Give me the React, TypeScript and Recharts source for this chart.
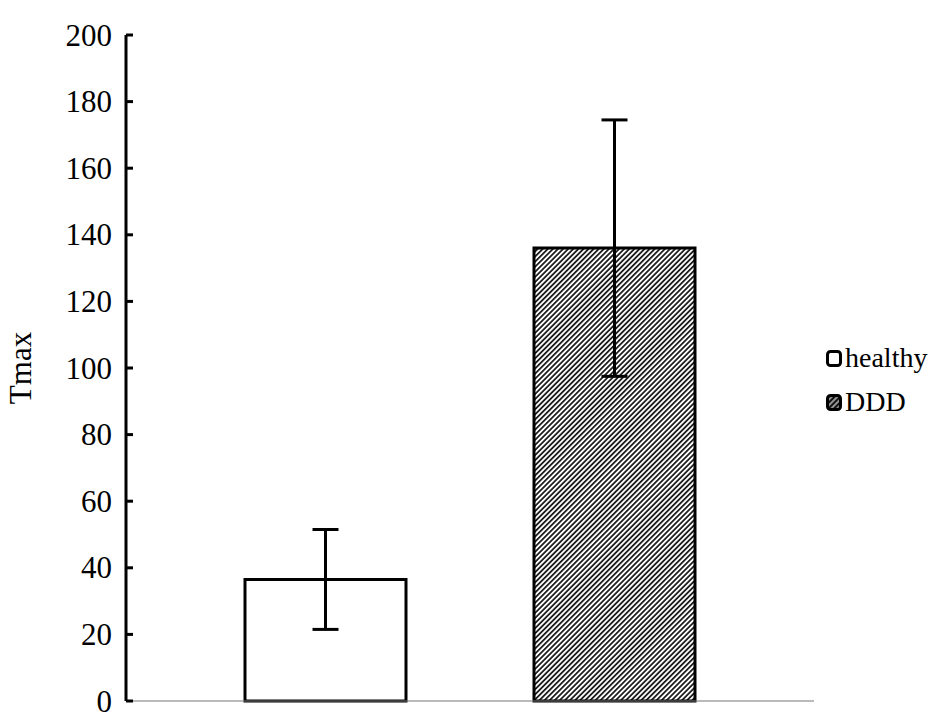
import React from 'react';
import { BarChart, Bar, XAxis, YAxis, ErrorBar, Legend } from 'recharts';

const categories = [''];
const healthyValues = [36.5];
const healthyErrors = [15];
const dddValues = [136];
const dddErrors = [38.5];
const yTicks = [0, 20, 40, 60, 80, 100, 120, 140, 160, 180, 200];

const data = categories.map((c, i) => ({
  name: c,
  healthy: healthyValues[i],
  healthyErr: healthyErrors[i],
  DDD: dddValues[i],
  DDDErr: dddErrors[i],
}));

const FONT = '"Liberation Serif", "Times New Roman", serif';

const YTick = (props: any) => {
  const { x, y, payload } = props;
  return (
    <g>
      <line x1={x} y1={y} x2={x + 7} y2={y} stroke="#000" strokeWidth={3} />
      <text
        x={x - 14}
        y={y}
        textAnchor="end"
        dominantBaseline="central"
        fontFamily={FONT}
        fontSize={31}
        fill="#000"
      >
        {payload.value}
      </text>
    </g>
  );
};

const LegendContent = () => (
  <div style={{ fontFamily: FONT, fontSize: 28, color: '#000', lineHeight: '44px' }}>
    <div style={{ display: 'flex', alignItems: 'center' }}>
      <svg width={17} height={17} style={{ marginRight: 2 }}>
        <rect x={1.5} y={1.5} width={13} height={14} rx={3} fill="#fff" stroke="#000" strokeWidth={3} />
      </svg>
      <span>healthy</span>
    </div>
    <div style={{ display: 'flex', alignItems: 'center' }}>
      <svg width={17} height={17} style={{ marginRight: 2 }}>
        <defs>
          <pattern id="hatchLegend" patternUnits="userSpaceOnUse" width={4} height={4} patternTransform="rotate(45)">
            <rect width={4} height={4} fill="#111" />
            <line x1={2} y1={0} x2={2} y2={4} stroke="#ddd" strokeWidth={1.3} />
          </pattern>
        </defs>
        <rect x={1.5} y={1.5} width={13} height={14} rx={3} fill="url(#hatchLegend)" stroke="#000" strokeWidth={3} />
      </svg>
      <span>DDD</span>
    </div>
  </div>
);

export default function App() {
  return (
    <div style={{ position: 'absolute', left: 0, top: 0, width: 945, height: 717, background: '#fff' }}>
      <BarChart
        width={945}
        height={717}
        data={data}
        margin={{ top: 35, right: 131, bottom: 0, left: 0 }}
        barSize={161}
        barGap={128}
      >
        <defs>
          <pattern id="hatch" patternUnits="userSpaceOnUse" width={3.6} height={3.6} patternTransform="rotate(45)">
            <rect width={3.6} height={3.6} fill="#fff" />
            <line x1={1.8} y1={0} x2={1.8} y2={3.6} stroke="#111" strokeWidth={1.7} />
          </pattern>
        </defs>
        <XAxis
          dataKey="name"
          height={16}
          tick={false}
          tickLine={false}
          axisLine={{ stroke: '#777', strokeWidth: 1.2 }}
        />
        <XAxis
          xAxisId="top"
          orientation="top"
          dataKey="name"
          height={0}
          tick={false}
          tickLine={false}
          axisLine={{ stroke: '#777', strokeWidth: 2 }}
        />
        <YAxis
          domain={[0, 200]}
          ticks={yTicks}
          interval={0}
          width={126}
          tickSize={0}
          tickMargin={0}
          tick={<YTick />}
          axisLine={{ stroke: '#000', strokeWidth: 3 }}
          label={{
            value: 'Tmax',
            angle: -90,
            position: 'insideLeft',
            offset: 0,
            dx: 20,
            style: { fontFamily: FONT, fontSize: 31, fill: '#000', textAnchor: 'middle' },
          }}
        />
        <YAxis
          yAxisId="right"
          orientation="right"
          width={0}
          domain={[0, 200]}
          tick={false}
          tickLine={false}
          axisLine={{ stroke: '#777', strokeWidth: 2 }}
        />
        <Legend
          layout="vertical"
          align="center"
          verticalAlign="middle"
          content={<LegendContent />}
          wrapperStyle={{ left: 826, top: 336, width: 119 }}
        />
        <Bar dataKey="healthy" fill="#fff" stroke="#000" strokeWidth={3} isAnimationActive={false}>
          <ErrorBar dataKey="healthyErr" width={13} stroke="#000" strokeWidth={3} direction="y" />
        </Bar>
        <Bar dataKey="DDD" fill="url(#hatch)" stroke="#000" strokeWidth={3} isAnimationActive={false}>
          <ErrorBar dataKey="DDDErr" width={13} stroke="#000" strokeWidth={3} direction="y" />
        </Bar>
      </BarChart>
    </div>
  );
}
